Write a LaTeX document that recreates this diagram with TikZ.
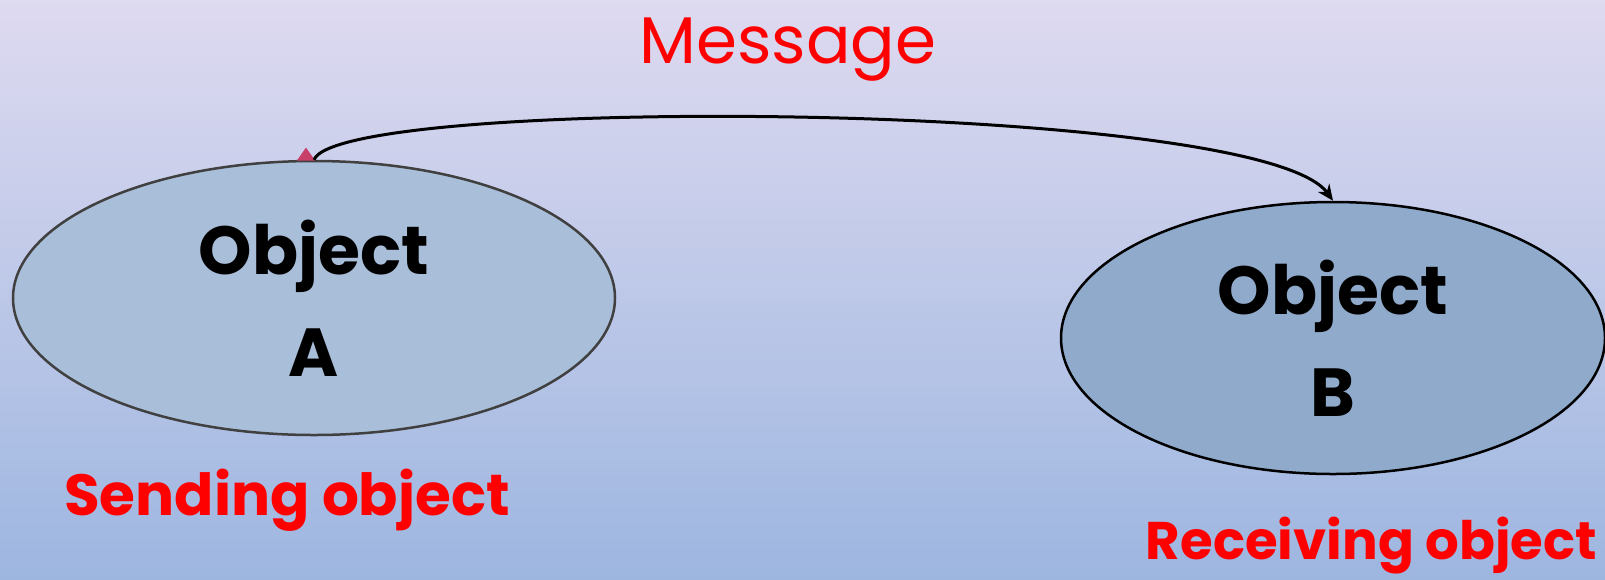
\documentclass[tikz,border=0pt]{standalone}
\usepackage{fontspec}
\setmainfont{Poppins}
\usetikzlibrary{shapes.geometric,arrows.meta}
\definecolor{bgtop}{HTML}{DEDAF0}
\definecolor{bgbot}{HTML}{9DB6E0}
\definecolor{fillA}{HTML}{A9BED8}
\definecolor{fillB}{HTML}{8FAACB}
\definecolor{edgeA}{HTML}{404040}
\definecolor{handle}{HTML}{C8406A}
\tikzset{
  obj/.style={ellipse, inner sep=0pt, align=center, font=\fontsize{68}{102}\selectfont\bfseries},
  redlbl/.style={text=red, inner sep=0pt, font=\bfseries},
  msg/.style={text=red, inner sep=0pt, font=\fontsize{66}{70}\selectfont},
}
\begin{document}
\begin{tikzpicture}[x=1pt,y=-1pt]
\shade[top color=bgtop, bottom color=bgbot] (0,0) rectangle (1605,579);
\useasboundingbox (0,0) rectangle (1605,579);
\node[obj, draw=edgeA, line width=2.5pt, fill=fillA, minimum width=602pt, minimum height=274pt] (A) at (314,298) {Object\\A};
\node[obj, draw=black, line width=2.5pt, fill=fillB, minimum width=544pt, minimum height=272pt] (B) at (1333,338) {Object\\B};
\node[msg] (M) at (788,50) {Message};
\node[redlbl, font=\fontsize{58}{62}\selectfont\bfseries] (S) at (287,500) {Sending object};
\node[redlbl, font=\fontsize{53}{60}\selectfont\bfseries, anchor=east] (R) at (1597,546) {Receiving object};
\node[isosceles triangle, isosceles triangle apex angle=70, shape border rotate=90, fill=handle, inner sep=0pt, minimum height=13pt, minimum width=15pt, anchor=south] (H) at ([xshift=-8pt,yshift=-1pt]A.north) {};
\draw[line width=3pt, -{Stealth[length=16pt,width=14pt]}] (A.north) .. controls (340,95) and (1260,100) .. (B.north);
\end{tikzpicture}
\end{document}
